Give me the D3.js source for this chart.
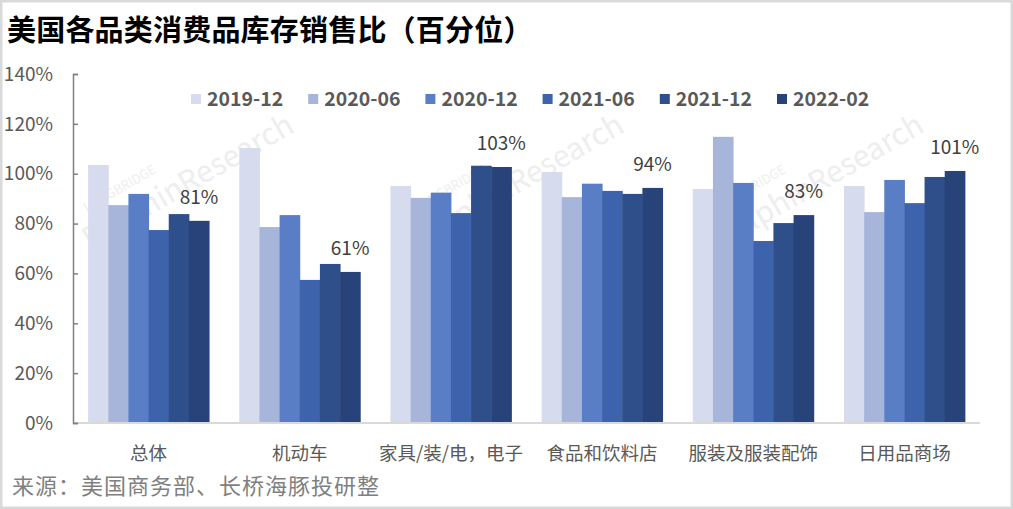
<!DOCTYPE html>
<html><head><meta charset="utf-8">
<script src="https://cdn.jsdelivr.net/npm/d3@7"></script>
<style>
html,body{margin:0;padding:0;background:#fff;}
svg{display:block;}
text{font-family:"Noto Sans CJK SC","Microsoft YaHei",sans-serif;}
</style></head>
<body>
<svg id="chart" width="1013" height="509"></svg>
<script>
const title = "美国各品类消费品库存销售比（百分位）";
const source = "来源：美国商务部、长桥海豚投研整";
const categories = ["总体","机动车","家具/装/电，电子","食品和饮料店","服装及服装配饰","日用品商场"];
const seriesNames = ["2019-12","2020-06","2020-12","2021-06","2021-12","2022-02"];
const s2019_12 = [103.5,110.3,95.1,100.7,93.9,95.1];
const s2020_06 = [87.4,78.6,90.3,90.6,114.8,84.6];
const s2020_12 = [91.9,83.4,92.4,96.0,96.3,97.5];
const s2021_06 = [77.4,57.4,84.2,93.1,73.0,88.2];
const s2021_12 = [83.8,63.8,103.2,91.9,80.2,98.7];
const s2022_02 = [81.1,60.6,102.7,94.3,83.4,101.1];
const yTicks = [0,20,40,60,80,100,120,140];
const colors = ["#d6dbee","#a7b5da","#5a7ec6","#3c63ac","#2e4f8a","#27437a"];

const seriesValues = [s2019_12,s2020_06,s2020_12,s2021_06,s2021_12,s2022_02];
const svg = d3.select("#chart");

// border
svg.append("rect").attr("x",1).attr("y",1).attr("width",1011).attr("height",507)
  .attr("fill","#fff").attr("stroke","#d9d9d9").attr("stroke-width",3);

// watermark
const wm = svg.append("g").attr("fill","#eeeeee");
[[90,250],[420,250],[720,250]].forEach(([x,y])=>{
  const g = wm.append("g").attr("transform",`translate(${x},${y}) rotate(-30)`);
  g.append("text").attr("x",16).attr("y",-34).attr("font-size",13).attr("font-family","Arial, sans-serif").text("LONGBRIDGE");
  g.append("text").attr("x",0).attr("y",0).attr("font-size",30).attr("font-family","Arial, sans-serif").text("DolphinResearch");
});

const x = d3.scaleBand().domain(categories).range([73,980]).paddingInner(0.2).paddingOuter(0.1);
const xs = d3.scaleBand().domain(seriesNames).range([0,x.bandwidth()]);
const y = d3.scaleLinear().domain([0,140]).range([423,74]);

// title
svg.append("text").attr("x",7).attr("y",41).attr("font-size",29).attr("font-weight","bold")
  .attr("letter-spacing",0.2).attr("fill","#000").text(title);

// bars
const data = [];
categories.forEach((c,ci)=>seriesNames.forEach((s,si)=>data.push({c,s,si,v:seriesValues[si][ci]})));
svg.append("g").selectAll("rect").data(data).join("rect")
  .attr("x",d=>x(d.c)+xs(d.s)).attr("width",xs.bandwidth()+0.5)
  .attr("y",d=>y(d.v)).attr("height",d=>y(0)-y(d.v))
  .attr("fill",d=>colors[d.si]);

// x baseline
svg.append("line").attr("x1",73).attr("x2",980).attr("y1",y(0)).attr("y2",y(0))
  .attr("stroke","#d9d9d9").attr("stroke-width",2);

// y axis
const yAxis = d3.axisRight(y).tickValues(yTicks).tickSize(5).tickFormat("");
const ya = svg.append("g").attr("transform","translate(73,0)").call(yAxis);
ya.select(".domain").attr("stroke","#808080").attr("stroke-width",1.5);
ya.selectAll(".tick line").attr("stroke","#808080").attr("stroke-width",1.5);
svg.append("g").selectAll("text").data(yTicks).join("text")
  .attr("x",53).attr("y",d=>y(d)).attr("dy","0.35em").attr("text-anchor","end")
  .attr("font-size",19).attr("fill","#595959").text(d=>d+"%");

// x labels
svg.append("g").selectAll("text").data(categories).join("text")
  .attr("x",d=>x(d)+x.bandwidth()/2).attr("y",460).attr("text-anchor","middle")
  .attr("font-size",18.5).attr("fill","#595959").text(d=>d);

// value labels for last series
const last = seriesNames[seriesNames.length-1];
svg.append("g").selectAll("text").data(categories).join("text")
  .attr("x",(d)=>x(d)+xs(last)+xs.bandwidth()/2)
  .attr("y",(d,i)=>y(s2022_02[i])-17).attr("text-anchor","middle")
  .attr("font-size",19).attr("fill","#404040").text((d,i)=>Math.round(s2022_02[i])+"%");

// legend
const lg = svg.append("g");
seriesNames.forEach((s,i)=>{
  const lx = 191 + i*117.2;
  lg.append("rect").attr("x",lx).attr("y",94).attr("width",10).attr("height",10).attr("fill",colors[i]);
  lg.append("text").attr("x",lx+16).attr("y",106).attr("font-size",19.5).attr("font-weight","bold")
    .attr("fill","#595959").text(s);
});

// source
svg.append("text").attr("x",12).attr("y",494).attr("font-size",22).attr("letter-spacing",1)
  .attr("fill","#7f7f7f").text(source);
</script>
</body></html>
